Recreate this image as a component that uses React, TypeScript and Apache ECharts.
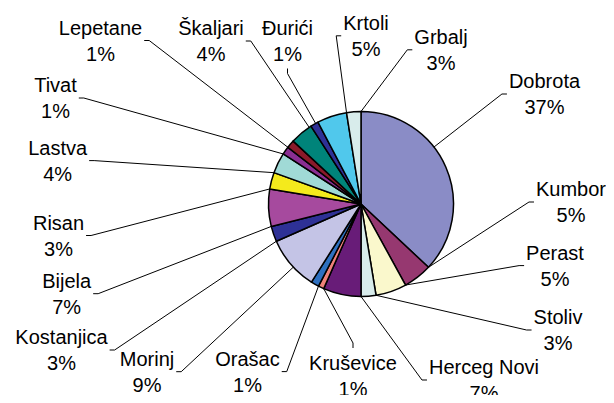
import React, { useEffect, useRef } from "react";
import * as echarts from "echarts";

// Slices, clockwise from 12 o'clock
const places = [
  "Dobrota",
  "Kumbor",
  "Perast",
  "Stoliv",
  "Herceg Novi",
  "Kruševice",
  "Orašac",
  "Morinj",
  "Kostanjica",
  "Bijela",
  "Risan",
  "Lastva",
  "Tivat",
  "Lepetane",
  "Škaljari",
  "Đurići",
  "Krtoli",
  "Grbalj",
];

// Shares in percent (consistent with the printed percentages)
const shares = [37.0, 5.0, 5.4, 2.6, 6.6, 1.0, 1.4, 9.4, 2.7, 6.5, 2.9, 3.6, 1.4, 1.4, 4.0, 1.4, 5.2, 2.5];

const sliceColors = [
  "#8a8cc6",
  "#963870",
  "#faf8cc",
  "#d8eceb",
  "#681c78",
  "#f0827a",
  "#2e70c0",
  "#c4c4e6",
  "#2e3196",
  "#a64a9e",
  "#f4ea1c",
  "#a0dad6",
  "#8a2e92",
  "#8a1a2a",
  "#00847a",
  "#2e3196",
  "#50c8ec",
  "#d8eceb",
];

// Label block centres (layout, px)
const labelCenters: [number, number][] = [
  [544.5, 94],
  [571, 202],
  [555, 265.6],
  [558, 330],
  [484, 380],
  [353, 376],
  [247.5, 371.6],
  [147, 371.7],
  [61.5, 350],
  [66.7, 293.7],
  [58.5, 235.5],
  [57.7, 160.6],
  [55.5, 98],
  [100.5, 40.5],
  [211, 41],
  [287.5, 40.5],
  [366, 35.8],
  [441, 49.8],
];

// Side of the label block where its leader line attaches
const labelAnchors = [
  "left", "left", "left", "left", "left", "top", "right", "right", "right",
  "right", "right", "right", "right", "right", "right", "bottom", "left", "left",
];

const PIE_CENTER: [number, number] = [361, 204];
const PIE_RADIUS = 92.5;
const TICK = 5;
const GAP = 2;

export default function App() {
  const ref = useRef<HTMLDivElement>(null);

  useEffect(() => {
    if (!ref.current) return;
    const chart = echarts.init(ref.current, null, { renderer: "svg" });
    const data = places.map((name, i) => ({
      name,
      value: shares[i],
      itemStyle: { color: sliceColors[i] },
    }));
    const total = shares.reduce((a, b) => a + b, 0);
    const starts: number[] = [];
    let acc = 0;
    shares.forEach((v) => {
      starts.push(acc);
      acc += v;
    });

    chart.setOption({
      animation: false,
      backgroundColor: "#ffffff",
      textStyle: { fontFamily: "'Liberation Sans', Arial, sans-serif" },
      series: [
        {
          type: "pie",
          center: PIE_CENTER,
          radius: PIE_RADIUS,
          startAngle: 90,
          clockwise: true,
          avoidLabelOverlap: false,
          data,
          itemStyle: { borderColor: "#000000", borderWidth: 1.5 },
          label: {
            show: true,
            position: "outside",
            formatter: (p: any) => `${p.name}\n${Math.round(p.percent)}%`,
            color: "#000000",
            fontSize: 20,
            lineHeight: 26,
            fontFamily: "'Liberation Sans', Arial, sans-serif",
          },
          labelLine: {
            show: true,
            length: 10,
            length2: TICK,
            lineStyle: { color: "#000000", width: 1 },
          },
          labelLayout: (params: any) => {
            const i = params.dataIndex;
            const [x, y] = labelCenters[i];
            const w = params.labelRect ? params.labelRect.width : 60;
            const h = params.labelRect ? params.labelRect.height : 52;
            const side = labelAnchors[i];
            let a: [number, number];
            let b: [number, number];
            if (side === "left") {
              a = [x - w / 2 - GAP, y];
              b = [x - w / 2 - GAP - TICK, y];
            } else if (side === "right") {
              a = [x + w / 2 + GAP, y];
              b = [x + w / 2 + GAP + TICK, y];
            } else if (side === "top") {
              a = [x, y - h / 2 - GAP];
              b = [x, y - h / 2 - GAP - TICK];
            } else {
              a = [x, y + h / 2 + GAP];
              b = [x, y + h / 2 + GAP + TICK];
            }
            // nearest point on this slice's arc
            const s0 = (starts[i] / total) * 360;
            const s1 = ((starts[i] + shares[i]) / total) * 360;
            let ang = (Math.atan2(b[0] - PIE_CENTER[0], -(b[1] - PIE_CENTER[1])) * 180) / Math.PI;
            if (ang < 0) ang += 360;
            let clamped = ang;
            if (ang < s0 || ang > s1) {
              const d0 = Math.min(Math.abs(ang - s0), 360 - Math.abs(ang - s0));
              const d1 = Math.min(Math.abs(ang - s1), 360 - Math.abs(ang - s1));
              clamped = d0 < d1 ? s0 : s1;
            }
            const rad = (clamped * Math.PI) / 180;
            const edge: [number, number] = [
              PIE_CENTER[0] + PIE_RADIUS * Math.sin(rad),
              PIE_CENTER[1] - PIE_RADIUS * Math.cos(rad),
            ];
            return {
              x,
              y,
              align: "center",
              verticalAlign: "middle",
              labelLinePoints: [edge, b, a],
            };
          },
          emphasis: { disabled: true },
        },
      ],
    });
    return () => chart.dispose();
  }, []);

  return <div ref={ref} style={{ width: 614, height: 403, margin: -8 }} />;
}
